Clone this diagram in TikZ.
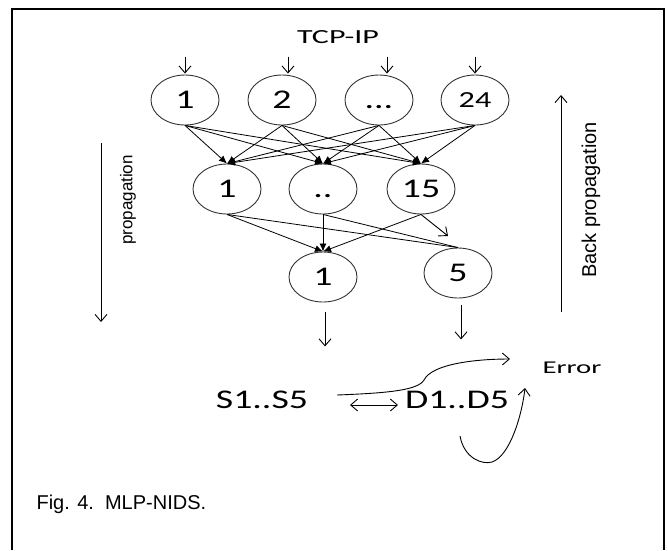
\documentclass[tikz,border=0pt]{standalone}
\usepackage{fontspec}
\setmainfont{Liberation Sans}
\newfontfamily\numfont[FakeStretch=1.4]{Carlito}
\newfontfamily\widefont[FakeStretch=1.6]{Carlito}
\usetikzlibrary{arrows.meta,positioning,calc,shapes.geometric}

\begin{document}
\begin{tikzpicture}[x=1pt,y=-1pt,
    neuron/.style={draw=black!80,line width=0.9pt,ellipse,minimum width=68pt,minimum height=50pt,inner sep=0pt,font=\numfont\fontsize{27}{27}\selectfont},
    link/.style={line width=0.8pt,-{Latex[length=8pt,width=7pt]}},
    feed/.style={line width=0.9pt,-{Straight Barb[length=7pt,width=12pt]}}]
    \useasboundingbox (0,0) rectangle (668,550);
    \draw[line width=2.5pt] (12,550) -- (12,9) -- (664,9) -- (664,550);

    \node[anchor=base,font=\widefont\fontsize{20}{20}\selectfont] (tcp) at (338,43) {TCP-IP};

    \node[neuron] (i1) at (185,100) {1};
    \node[neuron] (i2) at (282,100) {2};
    \node[neuron] (i3) at (379,100) {\vphantom{1}...};
    \node[neuron,font=\numfont\fontsize{23}{23}\selectfont] (i4) at (475,100) {24};

    \node[neuron] (h1) at (227,189) {1};
    \node[neuron] (h2) at (323,189) {\vphantom{1}..};
    \node[neuron] (h3) at (421,189) {15};

    \node[neuron] (o1) at (323,277) {1};
    \node[neuron] (o5) at (458,273) {5};

    \draw[feed] ([yshift=18pt]i1.north) -- ([yshift=1pt]i1.north);
    \draw[feed] ([xshift=6pt,yshift=18pt]i2.north) -- ([xshift=6pt,yshift=1pt]i2.north);
    \draw[feed] ([xshift=8pt,yshift=18pt]i3.north) -- ([xshift=8pt,yshift=1pt]i3.north);
    \draw[feed] ([yshift=18pt]i4.north) -- ([yshift=1pt]i4.north);

    \foreach \i in {1,...,4}
        \foreach \j in {1,2,3}
            \draw[link] (i\i.south) -- (h\j.north);

    \foreach \j in {1,2,3}
        \draw[link] (h\j.south) -- (o1.north);
    \draw[line width=0.8pt] (h1.south) -- (o5.north);
    \draw[line width=0.8pt] (h2.south) -- (o5.north);
    \coordinate (h3end) at (448,236);
    \draw[feed] (h3.south) -- (h3end);

    \draw[feed] ([xshift=2pt,yshift=-10pt]o1.south) -- ([xshift=2pt,yshift=-44pt]o1.south);
    \draw[feed] ([xshift=3pt,yshift=-7pt]o5.south) -- ([xshift=3pt,yshift=-41pt]o5.south);

    \node[anchor=base,font=\numfont\fontsize{27}{27}\selectfont] (s) at (262,408) {S1..S5};
    \node[anchor=base,font=\numfont\fontsize{27}{27}\selectfont] (d) at (457,408) {D1..D5};
    \node[anchor=base west,font=\widefont\fontsize{18}{18}\selectfont] (err) at (539,373) {Error};

    \draw[line width=0.9pt,{Straight Barb[length=7pt,width=12pt]}-{Straight Barb[length=7pt,width=12pt]}] (350,405) -- (398,405);

    \coordinate (sa) at (337,395);
    \coordinate (ea) at (510,359);
    \draw[feed] (sa) .. controls (390,393) and (418,390) .. (424,380)
        .. controls (432,364) and (475,359) .. (ea);

    \coordinate (db) at (460,436);
    \coordinate (eb) at (525,388);
    \draw[feed] (db) .. controls (464,458) and (482,465) .. (492,462)
        .. controls (510,456) and (522,415) .. (eb);

    \coordinate (pt) at (101,143);
    \coordinate (pb) at (101,322);
    \draw[feed] (pt) -- (pb);
    \node[rotate=90,font=\fontsize{17}{17}\selectfont] (prop) at (128,200) {propagation};

    \coordinate (bb) at (561,312);
    \coordinate (bt) at (561,95);
    \draw[feed] (bb) -- (bt);
    \node[rotate=90,font=\fontsize{20}{20}\selectfont] (back) at (591,200) {Back propagation};

    \node[anchor=base west,font=\fontsize{20}{20}\selectfont] (cap) at (33,509) {Fig. 4.\ \ MLP-NIDS.};
\end{tikzpicture}
\end{document}
